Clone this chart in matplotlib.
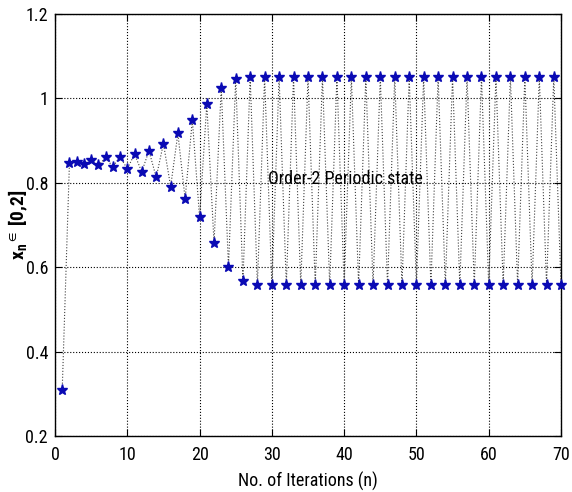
import matplotlib
matplotlib.use("Agg")
import matplotlib.pyplot as plt
from matplotlib import font_manager

# Iteration index and state values x_n
iterations = list(range(1, 71))
x_values = [
    0.31, 0.848, 0.850, 0.845, 0.854, 0.841, 0.860, 0.838, 0.862, 0.833,
    0.868, 0.826, 0.876, 0.813, 0.893, 0.791, 0.917, 0.762, 0.949, 0.718,
    0.987, 0.657, 1.025, 0.600, 1.047, 0.567, 1.051, 0.557, 1.051, 0.557,
    1.051, 0.557, 1.051, 0.557, 1.051, 0.557, 1.051, 0.557, 1.051, 0.557,
    1.051, 0.557, 1.051, 0.557, 1.051, 0.557, 1.051, 0.557, 1.051, 0.557,
    1.051, 0.557, 1.051, 0.557, 1.051, 0.557, 1.051, 0.557, 1.051, 0.557,
    1.051, 0.557, 1.051, 0.557, 1.051, 0.557, 1.051, 0.557, 1.051, 0.557,
]
x_ticks = [0, 10, 20, 30, 40, 50, 60, 70]
x_tick_labels = ["0", "10", "20", "30", "40", "50", "60", "70"]
y_ticks = [0.2, 0.4, 0.6, 0.8, 1.0, 1.2]
y_tick_labels = ["0.2", "0.4", "0.6", "0.8", "1", "1.2"]

# Prefer a narrow/condensed sans face when one is installed
family = "Liberation Sans"
narrow = None
for f in font_manager.fontManager.ttflist:
    nm = f.name
    if ("Narrow" in nm or "Condensed" in nm) and "Mono" not in nm \
            and "Serif" not in nm:
        narrow = nm
        if "Liberation" in nm or "Arial" in nm:
            break
if narrow:
    family = narrow

plt.rcParams["font.family"] = [family, "DejaVu Sans"]
plt.rcParams["mathtext.fontset"] = "custom"
plt.rcParams["mathtext.rm"] = family
plt.rcParams["mathtext.it"] = family

fs = 13 if narrow else 12

fig = plt.figure(figsize=(5.72, 4.92), dpi=100)
ax = fig.add_axes([55 / 572, 56 / 492, 506 / 572, 422 / 492])

ax.plot(iterations, x_values, linestyle=":", color="#404040", linewidth=0.8,
        zorder=2)
ax.plot(iterations, x_values, linestyle="none", marker="*", markersize=8,
        color="#0a0ab4", markeredgecolor="#0a0ab4", zorder=3, clip_on=False)

ax.set_xlim(0, 70)
ax.set_ylim(0.2, 1.2)
ax.set_xticks(x_ticks)
ax.set_xticklabels(x_tick_labels)
ax.set_yticks(y_ticks)
ax.set_yticklabels(y_tick_labels)
ax.grid(True, linestyle=":", color="black", linewidth=0.8)
ax.tick_params(direction="in", length=5, width=0.8, top=True, right=True,
               labelsize=fs, pad=5)
ax.tick_params(axis="x", pad=7)
for s in ax.spines.values():
    s.set_linewidth(1.0)

ax.set_xlabel("No. of Iterations (n)", fontsize=fs, labelpad=6)
ax.set_ylabel(r"x$_\mathregular{n}$$^{\mathregular{\in}}$ [0,2]",
              fontsize=fs + 1, fontweight="bold")
ax.yaxis.set_label_coords(-0.05, 0.5)

ax.text(29.5, 0.81, "Order-2 Periodic state", fontsize=fs, va="center",
        ha="left")

fig.savefig("out.png", dpi=100, facecolor="white")
